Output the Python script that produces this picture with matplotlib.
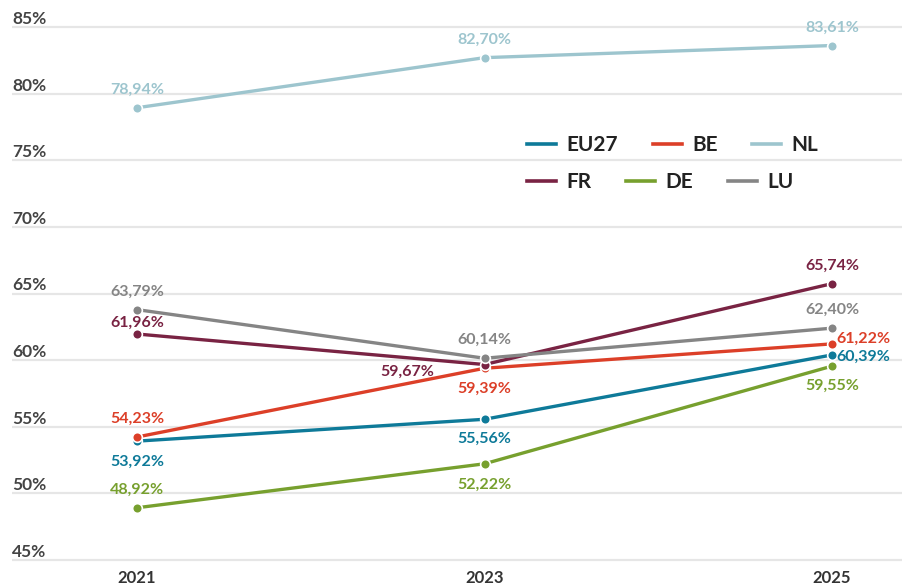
#!/usr/bin/env python3

import matplotlib.pyplot as plt
from matplotlib.lines import Line2D
from matplotlib.transforms import blended_transform_factory

plt.rcParams["font.family"] = ["Lato", "DejaVu Sans"]

# Survey years and shares (%) per country
years = [2021, 2023, 2025]
eu27 = [53.92, 55.56, 60.39]
be = [54.23, 59.39, 61.22]
nl = [78.94, 82.70, 83.61]
fr = [61.96, 59.67, 65.74]
de = [48.92, 52.22, 59.55]
lu = [63.79, 60.14, 62.40]

series = [
    ("EU27", eu27, "#0e7a99"),
    ("BE", be, "#dc3f28"),
    ("NL", nl, "#9dc5ce"),
    ("FR", fr, "#792343"),
    ("DE", de, "#77a02e"),
    ("LU", lu, "#858585"),
]

# Where each value label sits relative to its point (dx, dy in points, ha)
label_pos = {
    "EU27": [(0, -15, "center"), (0, -14, "center"), (3, -1, "left")],
    "BE": [(0, 13, "center"), (0, -15, "center"), (3, 4, "left")],
    "NL": [(0, 13, "center"), (0, 13, "center"), (0, 13, "center")],
    "FR": [(0, 8, "center"), (-36, -5, "right"), (0, 13, "center")],
    "DE": [(0, 13, "center"), (0, -15, "center"), (0, -14, "center")],
    "LU": [(0, 13, "center"), (0, 13, "center"), (0, 13, "center")],
}

px_per_pct = 13.325
fig = plt.figure(figsize=(9.03, 5.85), dpi=100)
ax = fig.add_axes([12 / 903, 1 - 564 / 585, 1 - 12 / 903, (564 - 5) / 585])

ax.set_xlim(2021 - 125 / 173.75, 2025 + 71 / 173.75)
ax.set_ylim(45 - 4 / px_per_pct, 45 + 555 / px_per_pct)

# Horizontal grid with labels sitting just above each line
yticks = list(range(45, 90, 5))
trans = blended_transform_factory(ax.transAxes, ax.transData)
for y in yticks:
    ax.axhline(y, color="#e6e6e6", lw=1.6, zorder=0)
    ax.annotate(f"{y}%", (0, y), xycoords=trans, xytext=(0, 2.2),
                textcoords="offset points", ha="left", va="baseline",
                fontsize=12.5, fontweight="bold", color="#444444")

for name, vals, color in series:
    ax.plot(years, vals, color=color, lw=2.4, marker="o", ms=7,
            markeredgecolor="white", markeredgewidth=1.2, zorder=3,
            solid_capstyle="round")
    for x, v, (dx, dy, ha) in zip(years, vals, label_pos[name]):
        ax.annotate(f"{v:.2f}%".replace(".", ","), (x, v), xytext=(dx, dy),
                    textcoords="offset points", ha=ha, va="center",
                    fontsize=11.5, fontweight="bold", color=color, zorder=4)

ax.set_xticks(years)
ax.set_xticklabels([str(y) for y in years], fontsize=12, fontweight="bold",
                   color="#333333")
ax.tick_params(axis="x", length=0, pad=4)
ax.set_yticks([])
for s in ax.spines.values():
    s.set_visible(False)

# Two-row legend, each row laid out as a flow of entries
handles = {name: Line2D([], [], color=color, lw=2.6) for name, _, color in series}
rows = [(["EU27", "BE", "NL"], 145), (["FR", "DE", "LU"], 182)]
for names, ypix in rows:
    leg = fig.legend([handles[n] for n in names], names, ncol=3,
                     loc="center left", bbox_to_anchor=(527 / 903, 1 - ypix / 585),
                     frameon=False, borderpad=0, borderaxespad=0,
                     handlelength=1.4, handletextpad=0.5, columnspacing=1.65,
                     prop={"size": 15, "weight": "bold"})
    for t in leg.get_texts():
        t.set_color("#222222")

fig.savefig("out.png", dpi=100)
